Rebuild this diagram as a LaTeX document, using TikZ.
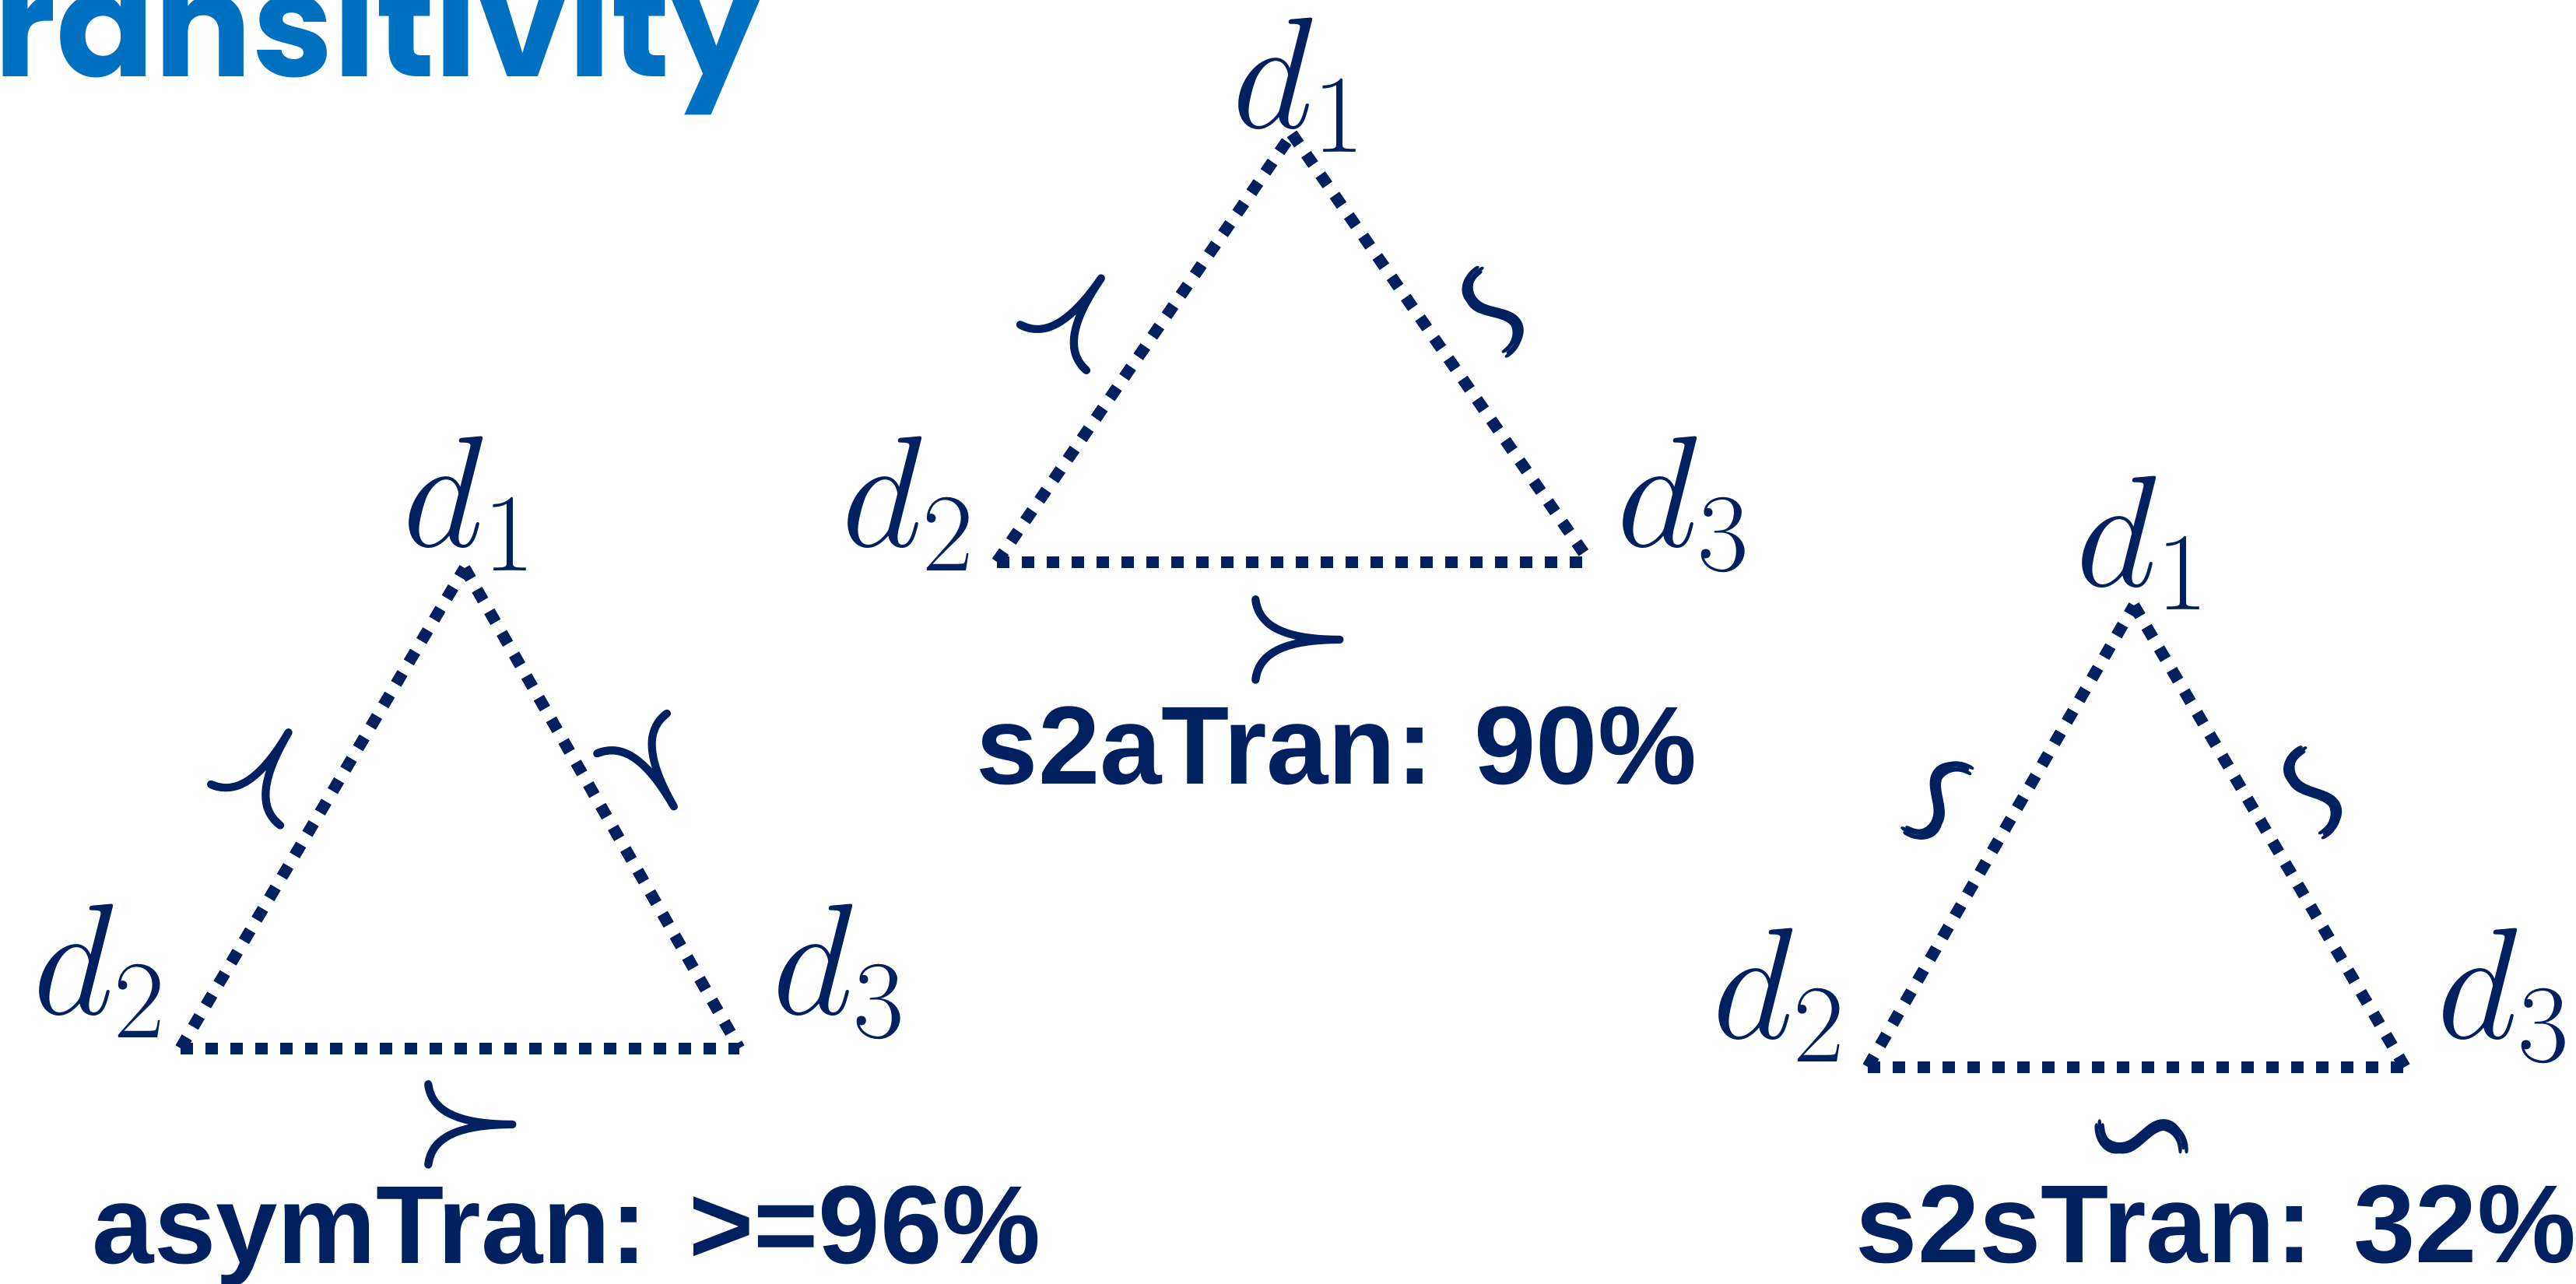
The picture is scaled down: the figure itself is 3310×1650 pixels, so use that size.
\documentclass[tikz,border=0pt]{standalone}
\usepackage{fix-cm}
\usepackage{amsmath,amssymb}
\usepackage[no-math]{fontspec}
\setmainfont{Liberation Sans}
\newfontfamily\titlefont{Poppins}
\definecolor{navy}{HTML}{002060}
\definecolor{titleblue}{HTML}{0070C0}
\tikzset{
  dotline/.style={navy,line width=1.5mm,dash pattern=on 1.6mm off 1.6mm},
  vlabel/.style={anchor=base west,inner sep=0,text=navy,font=\fontsize{58}{60}\selectfont},
  relsym/.style={inner sep=0,text=navy,font=\fontsize{48}{50}\selectfont},
  score/.style={anchor=base west,inner sep=0,text=navy,font=\fontsize{40.6}{48}\selectfont\bfseries},
}
\newcommand\rel[1]{$\boldsymbol{#1}$}
\newcommand\relt{$\pmb{\backsim}$}
\begin{document}
\begin{tikzpicture}[x=0.1mm,y=-0.1mm]
  \useasboundingbox[fill=white] (0,0) rectangle (3310,1650);
  \node[anchor=base west,inner sep=0,text=titleblue,font=\fontsize{53}{58}\selectfont\titlefont\bfseries] (title) at (-8,99) {ransitivity};
  % asymTran
  \coordinate (a1) at (597,730);
  \coordinate (a2) at (232,1347);
  \coordinate (a3) at (950,1347);
  \draw[dotline] (a2) -- (a1);
  \draw[dotline] (a1) -- (a3);
  \draw[dotline] (a2) -- (a3);
  \node[vlabel] (a1l) at (517,703) {$d_1$};
  \node[vlabel] (a2l) at (42,1303) {$d_2$};
  \node[vlabel] (a3l) at (992,1303) {$d_3$};
  \node[relsym,rotate=59.4] (a12) at (344,988) {\rel\succ};
  \node[relsym,rotate=-60.2] (a13) at (840,990) {\rel\succ};
  \node[relsym] (a23) at (605,1445) {\rel\succ};
  \node[score] (acap) at (118,1623) {asymTran: >=96\%};
  % s2aTran
  \coordinate (b1) at (1660,172);
  \coordinate (b2) at (1281,722);
  \coordinate (b3) at (2043,722);
  \draw[dotline] (b2) -- (b1);
  \draw[dotline] (b1) -- (b3);
  \draw[dotline] (b2) -- (b3);
  \node[vlabel] (b1l) at (1583,165) {$d_1$};
  \node[vlabel] (b2l) at (1081,703) {$d_2$};
  \node[vlabel] (b3l) at (2077,703) {$d_3$};
  \node[relsym,rotate=55.4] (b12) at (1385,402) {\rel\succ};
  \node[relsym,rotate=-55.1] (b13) at (1913,409) {\relt};
  \node[relsym] (b23) at (1668,822) {\rel\succ};
  \node[score] (bcap) at (1254,1007) {s2aTran: 90\%};
  % s2sTran
  \coordinate (c1) at (2742,778);
  \coordinate (c2) at (2400,1371);
  \coordinate (c3) at (3090,1371);
  \draw[dotline] (c2) -- (c1);
  \draw[dotline] (c1) -- (c3);
  \draw[dotline] (c2) -- (c3);
  \node[vlabel] (c1l) at (2667,753) {$d_1$};
  \node[vlabel] (c2l) at (2200,1334) {$d_2$};
  \node[vlabel] (c3l) at (3131,1334) {$d_3$};
  \node[relsym,rotate=60] (c12) at (2500,1030) {\relt};
  \node[relsym,rotate=-59.6] (c13) at (2966,1026) {\relt};
  \node[relsym] (c23) at (2756,1471) {\relt};
  \node[score] (ccap) at (2384,1622) {s2sTran: 32\%};
\end{tikzpicture}
\end{document}
